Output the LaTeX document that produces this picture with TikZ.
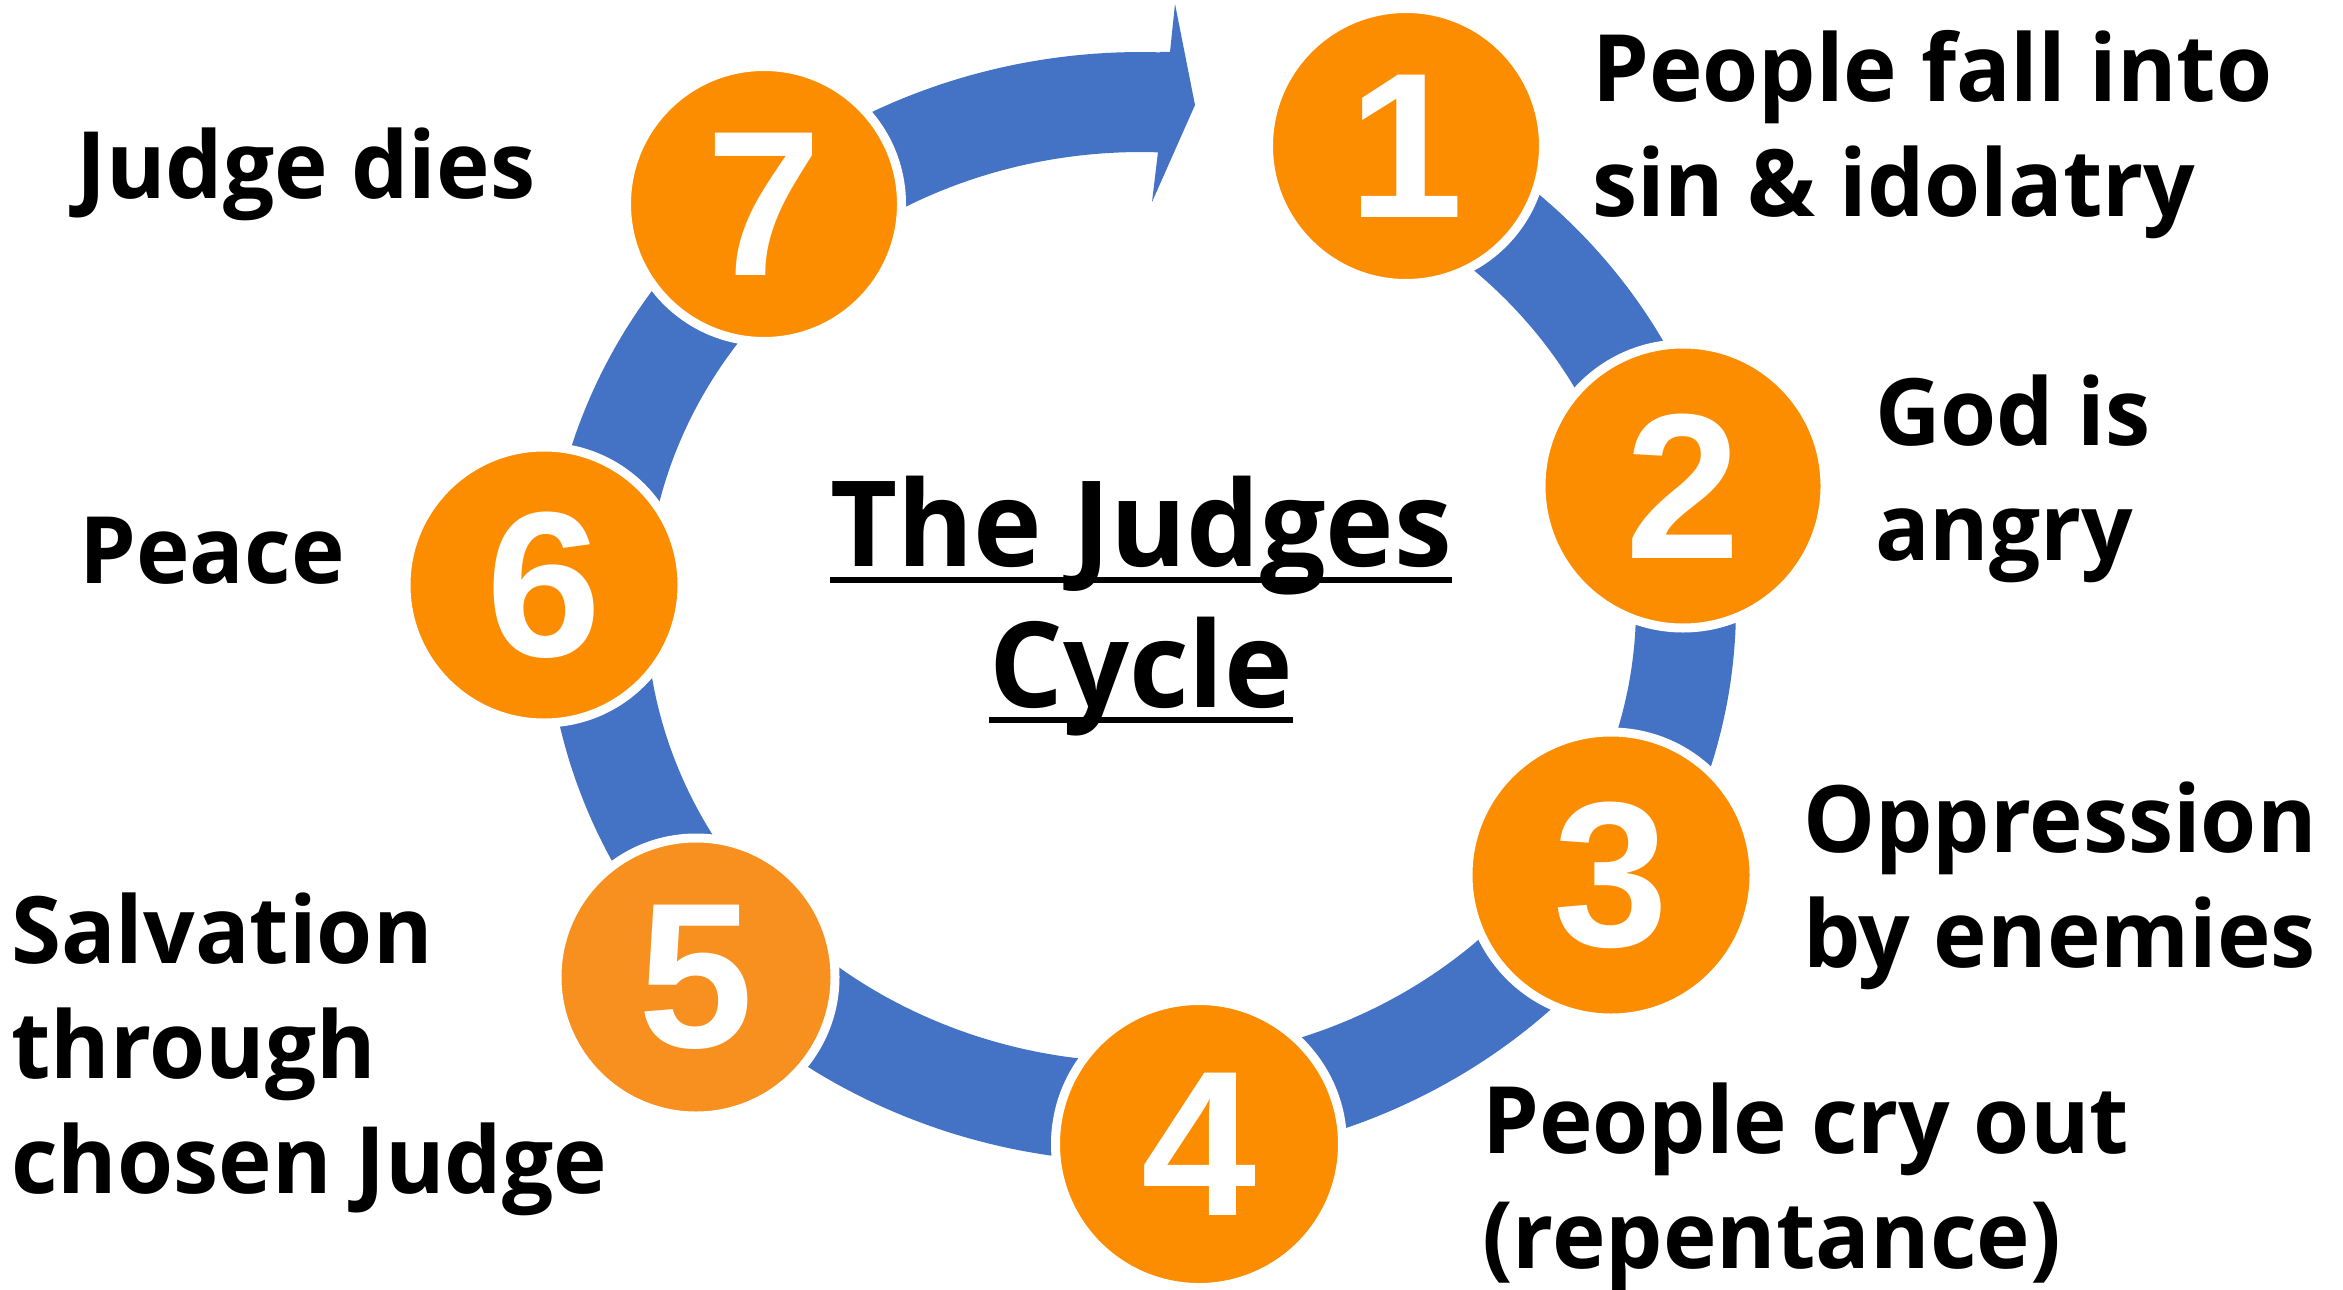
\documentclass[tikz,border=0pt]{standalone}
\usepackage{fontspec}
\setmainfont{Open Sans}[FakeStretch=0.975]
\newfontfamily\digitfont{Liberation Sans}
\definecolor{ringblue}{RGB}{68,114,196}
\definecolor{discorange}{RGB}{252,140,0}
\definecolor{discfive}{RGB}{247,144,30}
\begin{document}
\begin{tikzpicture}[x=1pt,y=-1pt,
  disc/.style={circle, fill=discorange, draw=white, line width=9pt, inner sep=0pt,
    text=white, font=\digitfont\bfseries\fontsize{207}{207}\selectfont},
  lab/.style={anchor=base west, align=left, inner sep=0pt,
    font=\bfseries\fontsize{93}{115}\selectfont},
  ttl/.style={anchor=base, inner sep=0pt, font=\bfseries\fontsize{119}{141}\selectfont},
  band/.style={draw=ringblue, line width=100pt},
  uline/.style={line width=6pt, black}
]
\fill[white] (0,0) rectangle (2343,1290);
\useasboundingbox (0,0) rectangle (2343,1290);

% ring band
\coordinate (ring) at (1141,607);
\draw[band] plot[smooth, domain=-62:272.4, samples=140, variable=\t]
  ({1141+545*cos(\t)},{607+505*sin(\t)});
% arrowhead
\fill[ringblue] (1160,52) -- (1170,52) -- (1175,4) -- (1195,105) -- (1152,202)
  -- (1158,152) -- (1160,152) -- cycle;

% discs
\node[disc, minimum size=275pt] (c1) at (1406,146) {1};
\node[disc, minimum size=284pt] (c2) at (1683,486) {2};
\node[disc, minimum size=286pt] (c3) at (1611,875) {3};
\node[disc, minimum size=287pt] (c4) at (1199,1144) {4};
\node[disc, fill=discfive, minimum size=278pt] (c5) at (696,977) {5};
\node[disc, minimum size=276pt] (c6) at (544,585) {6};
\node[disc, minimum size=275pt] (c7) at (764,204) {7};

% labels (anchor = baseline of the last line)
\node[lab] (t1) at (1592,216) {People fall into\\sin \& idolatry};
\node[lab] (t2) at (1875,560) {God is\\angry};
\node[lab] (t3) at (1803,967) {Oppression\\by enemies};
\node[lab] (t4) at (1482,1268) {People cry out\\(repentance)};
\node[lab] (t5) at (11,1193) {Salvation\\through\\chosen Judge};
\node[lab] (t6) at (79,583) {Peace};
\node[lab] (t7) at (76,198) {Judge dies};

% title
\node[ttl] (h1) at (1141,566) {The Judges};
\node[ttl] (h2) at (1141,707) {Cycle};
\draw[uline] ([yshift=-14pt]h1.base west) -- ([yshift=-14pt]h1.base east);
\draw[uline] ([yshift=-13pt]h2.base west) -- ([yshift=-13pt]h2.base east);
\end{tikzpicture}
\end{document}
